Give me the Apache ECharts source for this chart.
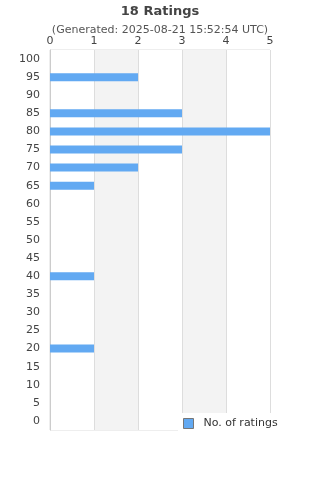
<!DOCTYPE html>
<html>
<head>
<meta charset="utf-8">
<script src="https://cdn.jsdelivr.net/npm/echarts@6/dist/echarts.min.js"></script>
<style>
  html, body { margin: 0; padding: 0; background: #fff; }
  #chart { width: 320px; height: 480px; }
</style>
</head>
<body>
<div id="chart"></div>
<script>
// rating buckets, bottom to top
const categories = ['0', '5', '10', '15', '20', '25', '30', '35', '40', '45', '50',
  '55', '60', '65', '70', '75', '80', '85', '90', '95', '100'];
const ratingCounts = [0, 0, 0, 0, 1, 0, 0, 0, 1, 0, 0,
  0, 0, 1, 2, 3, 5, 3, 0, 2, 0];
const seriesName = 'No. of ratings';

const myChart = echarts.init(document.getElementById('chart'));

const options = {
  textStyle: { fontFamily: 'DejaVu Sans' },
  title: {
    text: '18 Ratings',
    subtext: '(Generated: 2025-08-21 15:52:54 UTC)',
    left: 'center',
    top: 0,
    itemGap: 7,
    textStyle: { fontSize: 13, fontWeight: 'bold', color: '#444', fontFamily: 'DejaVu Sans' },
    subtextStyle: { fontSize: 11, color: '#555', fontFamily: 'DejaVu Sans' }
  },
  legend: {
    data: [seriesName],
    left: 178,
    top: 413,
    padding: [5, 6, 5, 5],
    backgroundColor: '#fff',
    itemWidth: 10,
    itemHeight: 10,
    icon: 'rect',
    itemStyle: { borderColor: '#777', borderWidth: 1 },
    textStyle: { fontSize: 11, color: '#333', padding: [0, 0, 0, 5] }
  },
  grid: {
    left: 50,
    right: 50,
    top: 50,
    height: 380,
    show: true,
    borderColor: '#ddd',
    borderWidth: 1
  },
  xAxis: {
    type: 'value',
    position: 'top',
    min: 0,
    max: 5,
    interval: 1,
    axisLine: { show: false },
    axisTick: { show: false },
    axisLabel: { color: '#444', fontSize: 11, margin: 3 },
    splitLine: { show: true, lineStyle: { color: '#ddd' } },
    splitArea: { show: true, areaStyle: { color: ['#ffffff', '#f3f3f3'] } }
  },
  yAxis: {
    type: 'category',
    data: categories,
    axisLine: { show: true, lineStyle: { color: '#ccc' } },
    axisTick: { show: false },
    axisLabel: { color: '#444', fontSize: 11, margin: 10 },
    splitLine: { show: false }
  },
  series: [
    {
      name: seriesName,
      type: 'bar',
      data: ratingCounts,
      barWidth: 8,
      itemStyle: { color: '#62a9f2' },
      animation: false
    }
  ],
  animation: false
};

myChart.setOption(options);
</script>
</body>
</html>
